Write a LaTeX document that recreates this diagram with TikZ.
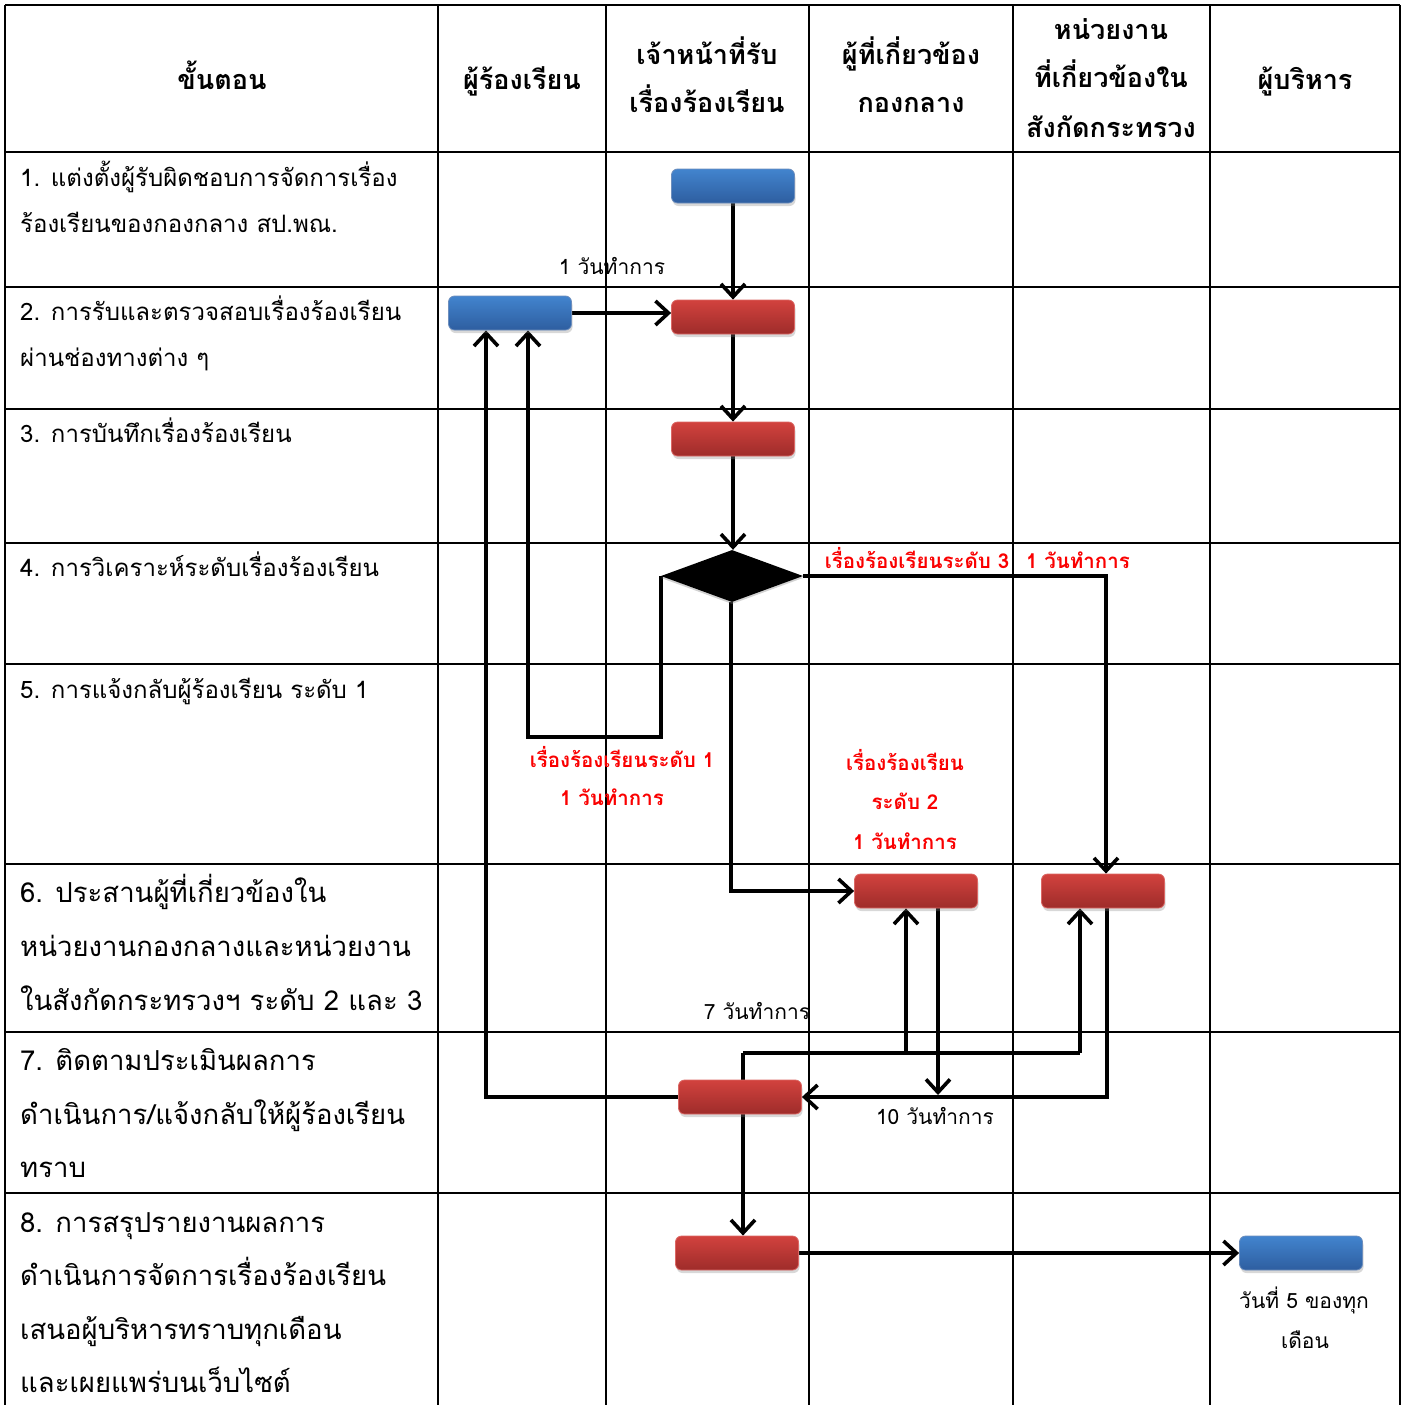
\documentclass[tikz,border=0pt]{standalone}
\usepackage{fontspec}
\setmainfont[Script=Thai]{Loma}
\usetikzlibrary{arrows.meta,shapes.geometric,shadows,backgrounds}
\definecolor{bluetop}{RGB}{66,132,206}
\definecolor{bluebot}{RGB}{46,94,160}
\definecolor{redtop}{RGB}{210,66,62}
\definecolor{redbot}{RGB}{158,44,42}
\definecolor{lblred}{RGB}{250,0,0}
\begin{document}
\begin{tikzpicture}[x=1pt,y=-1pt,
  box/.style={rounded corners=6pt, minimum width=123pt, minimum height=34pt, inner sep=0pt,
     drop shadow={shadow xshift=1pt, shadow yshift=-3pt, opacity=0.3}},
  bluebox/.style={box, top color=bluetop, bottom color=bluebot, draw=bluebot!70!white, line width=0.8pt},
  redbox/.style={box, top color=redtop, bottom color=redbot, draw=redtop!80!white, line width=0.8pt},
  decis/.style={diamond, aspect=2.7, minimum width=142pt, minimum height=52pt, inner sep=0pt,
     fill=black, drop shadow={shadow xshift=0pt, shadow yshift=-2pt, opacity=0.35}},
  arr/.style={line width=3.6pt, -{Straight Barb[length=13pt,width=24pt]}},
  conn/.style={line width=3.6pt},
  gridline/.style={line width=2.8pt},
  hdr/.style={anchor=base, inner sep=0pt, font=\fontsize{27}{32}\selectfont\bfseries},
  rowtxt/.style={anchor=base west, inner sep=0pt, font=\fontsize{24}{28}\selectfont},
  rowbig/.style={anchor=base west, inner sep=0pt, font=\fontsize{27.5}{32}\selectfont},
  note/.style={anchor=base, inner sep=0pt, font=\fontsize{21}{25}\selectfont},
  rednote/.style={anchor=base, inner sep=0pt, text=lblred, font=\fontsize{20.5}{24}\selectfont\bfseries}
]
\useasboundingbox (0,0) rectangle (1407,1405);

% header
\node[hdr] (h1) at (222,89) {ขั้นตอน};
\node[hdr] (h2) at (522,89) {ผู้ร้องเรียน};
\node[hdr] (h3a) at (707,64) {เจ้าหน้าที่รับ};
\node[hdr] (h3b) at (707,112) {เรื่องร้องเรียน};
\node[hdr] (h4a) at (911,64) {ผู้ที่เกี่ยวข้อง};
\node[hdr] (h4b) at (911,112) {กองกลาง};
\node[hdr] (h5a) at (1111,40) {หน่วยงาน};
\node[hdr] (h5b) at (1111,88) {ที่เกี่ยวข้องใน};
\node[hdr] (h5c) at (1111,137) {สังกัดกระทรวง};
\node[hdr] (h6) at (1305,89) {ผู้บริหาร};

% step texts
\node[rowtxt] (s1a) at (20,186) {1. แต่งตั้งผู้รับผิดชอบการจัดการเรื่อง};
\node[rowtxt] (s1b) at (20,232) {ร้องเรียนของกองกลาง สป.พณ.};
\node[rowtxt] (s2a) at (20,320) {2. การรับและตรวจสอบเรื่องร้องเรียน};
\node[rowtxt] (s2b) at (20,366) {ผ่านช่องทางต่าง ๆ};
\node[rowtxt] (s3) at (20,442) {3. การบันทึกเรื่องร้องเรียน};
\node[rowtxt] (s4) at (20,576) {4. การวิเคราะห์ระดับเรื่องร้องเรียน};
\node[rowtxt] (s5) at (20,698) {5. การแจ้งกลับผู้ร้องเรียน ระดับ 1};
\node[rowbig] (s6a) at (20,902) {6. ประสานผู้ที่เกี่ยวข้องใน};
\node[rowbig] (s6b) at (20,956) {หน่วยงานกองกลางและหน่วยงาน};
\node[rowbig] (s6c) at (20,1010) {ในสังกัดกระทรวงฯ ระดับ 2 และ 3};
\node[rowbig] (s7a) at (20,1070) {7. ติดตามประเมินผลการ};
\node[rowbig] (s7b) at (20,1124) {ดำเนินการ/แจ้งกลับให้ผู้ร้องเรียน};
\node[rowbig] (s7c) at (20,1177) {ทราบ};
\node[rowbig] (s8a) at (20,1232) {8. การสรุปรายงานผลการ};
\node[rowbig] (s8b) at (20,1285) {ดำเนินการจัดการเรื่องร้องเรียน};
\node[rowbig] (s8c) at (20,1339) {เสนอผู้บริหารทราบทุกเดือน};
\node[rowbig] (s8d) at (20,1392) {และเผยแพร่บนเว็บไซต์};

% flow shapes
\node[bluebox] (b1) at (733,186) {};
\node[bluebox] (b2) at (510,313) {};
\node[redbox] (r2) at (733,317) {};
\node[redbox] (r3) at (733,439) {};
\node[decis] (dia) at (732,576) {};
\node[redbox] (r6a) at (916,891) {};
\node[redbox] (r6b) at (1103,891) {};
\node[redbox] (r7) at (740,1097) {};
\node[redbox] (r8) at (737,1253) {};
\node[bluebox] (b8) at (1301,1253) {};

% labels
\node[note] (t1) at (612,274) {1 วันทำการ};
\node[note] (t7) at (757,1019) {7 วันทำการ};
\node[note] (t10) at (935,1124) {10 วันทำการ};
\node[note] (t5a) at (1304,1308) {วันที่ 5 ของทุก};
\node[note] (t5b) at (1305,1348) {เดือน};
\node[rednote] (l3a) at (917,568) {เรื่องร้องเรียนระดับ 3};
\node[rednote] (l3b) at (1078,568) {1 วันทำการ};
\node[rednote] (l1a) at (622,767) {เรื่องร้องเรียนระดับ 1};
\node[rednote] (l1b) at (612,805) {1 วันทำการ};
\node[rednote] (l2a) at (905,770) {เรื่องร้องเรียน};
\node[rednote] (l2b) at (905,809) {ระดับ 2};
\node[rednote] (l2c) at (905,849) {1 วันทำการ};

\begin{pgfonlayer}{background}
\fill[white] (0,0) rectangle (1407,1405);
\foreach \x in {5,438,606,809,1013,1210,1400} \draw[gridline] (\x,5) -- (\x,1405);
\foreach \y in {5,152,287,409,543,664,864,1032,1193} \draw[gridline] (5,\y) -- (1400,\y);

\coordinate (k1) at (528,737);
\coordinate (k2) at (486,1097);
\coordinate (j1) at (743,1053);
\coordinate (j2) at (1080,1053);
\coordinate (j3) at (906,1053);
\coordinate (d1) at (938,1095);
\coordinate (d2) at (1107,1097);
\coordinate (e3) at (1106,576);
\coordinate (e2) at (731,891);

\draw[arr] (b1.south) -- (b1.south |- r2.north);
\draw[arr] (b2.east) -- (b2.east -| r2.west);
\draw[arr] (r2.south) -- (r2.south |- r3.north);
\draw[arr] (r3.south) -- (r3.south |- dia.north);
\draw[arr] (dia.west) |- (k1) -- (k1 |- b2.south);
\draw[arr] (dia.south -| e2) -- (e2) -- (r6a.west);
\draw[arr] (dia.east) -- (e3) -- (e3 |- r6b.north);
\draw[conn] (j1) -- (j2);
\draw[arr] (j2) -- (j2 |- r6b.south);
\draw[arr] (j3) -- (j3 |- r6a.south);
\draw[arr] (j1) -- (j1 |- r8.north);
\draw[arr] (r6a.south -| d1) -- (d1);
\draw[arr] (r6b.south -| d2) -- (d2) -- (r7.east);
\draw[arr] (r7.west) -- (k2) -- (k2 |- b2.south);
\draw[arr] (r8.east) -- (b8.west);
\end{pgfonlayer}
\end{tikzpicture}
\end{document}
